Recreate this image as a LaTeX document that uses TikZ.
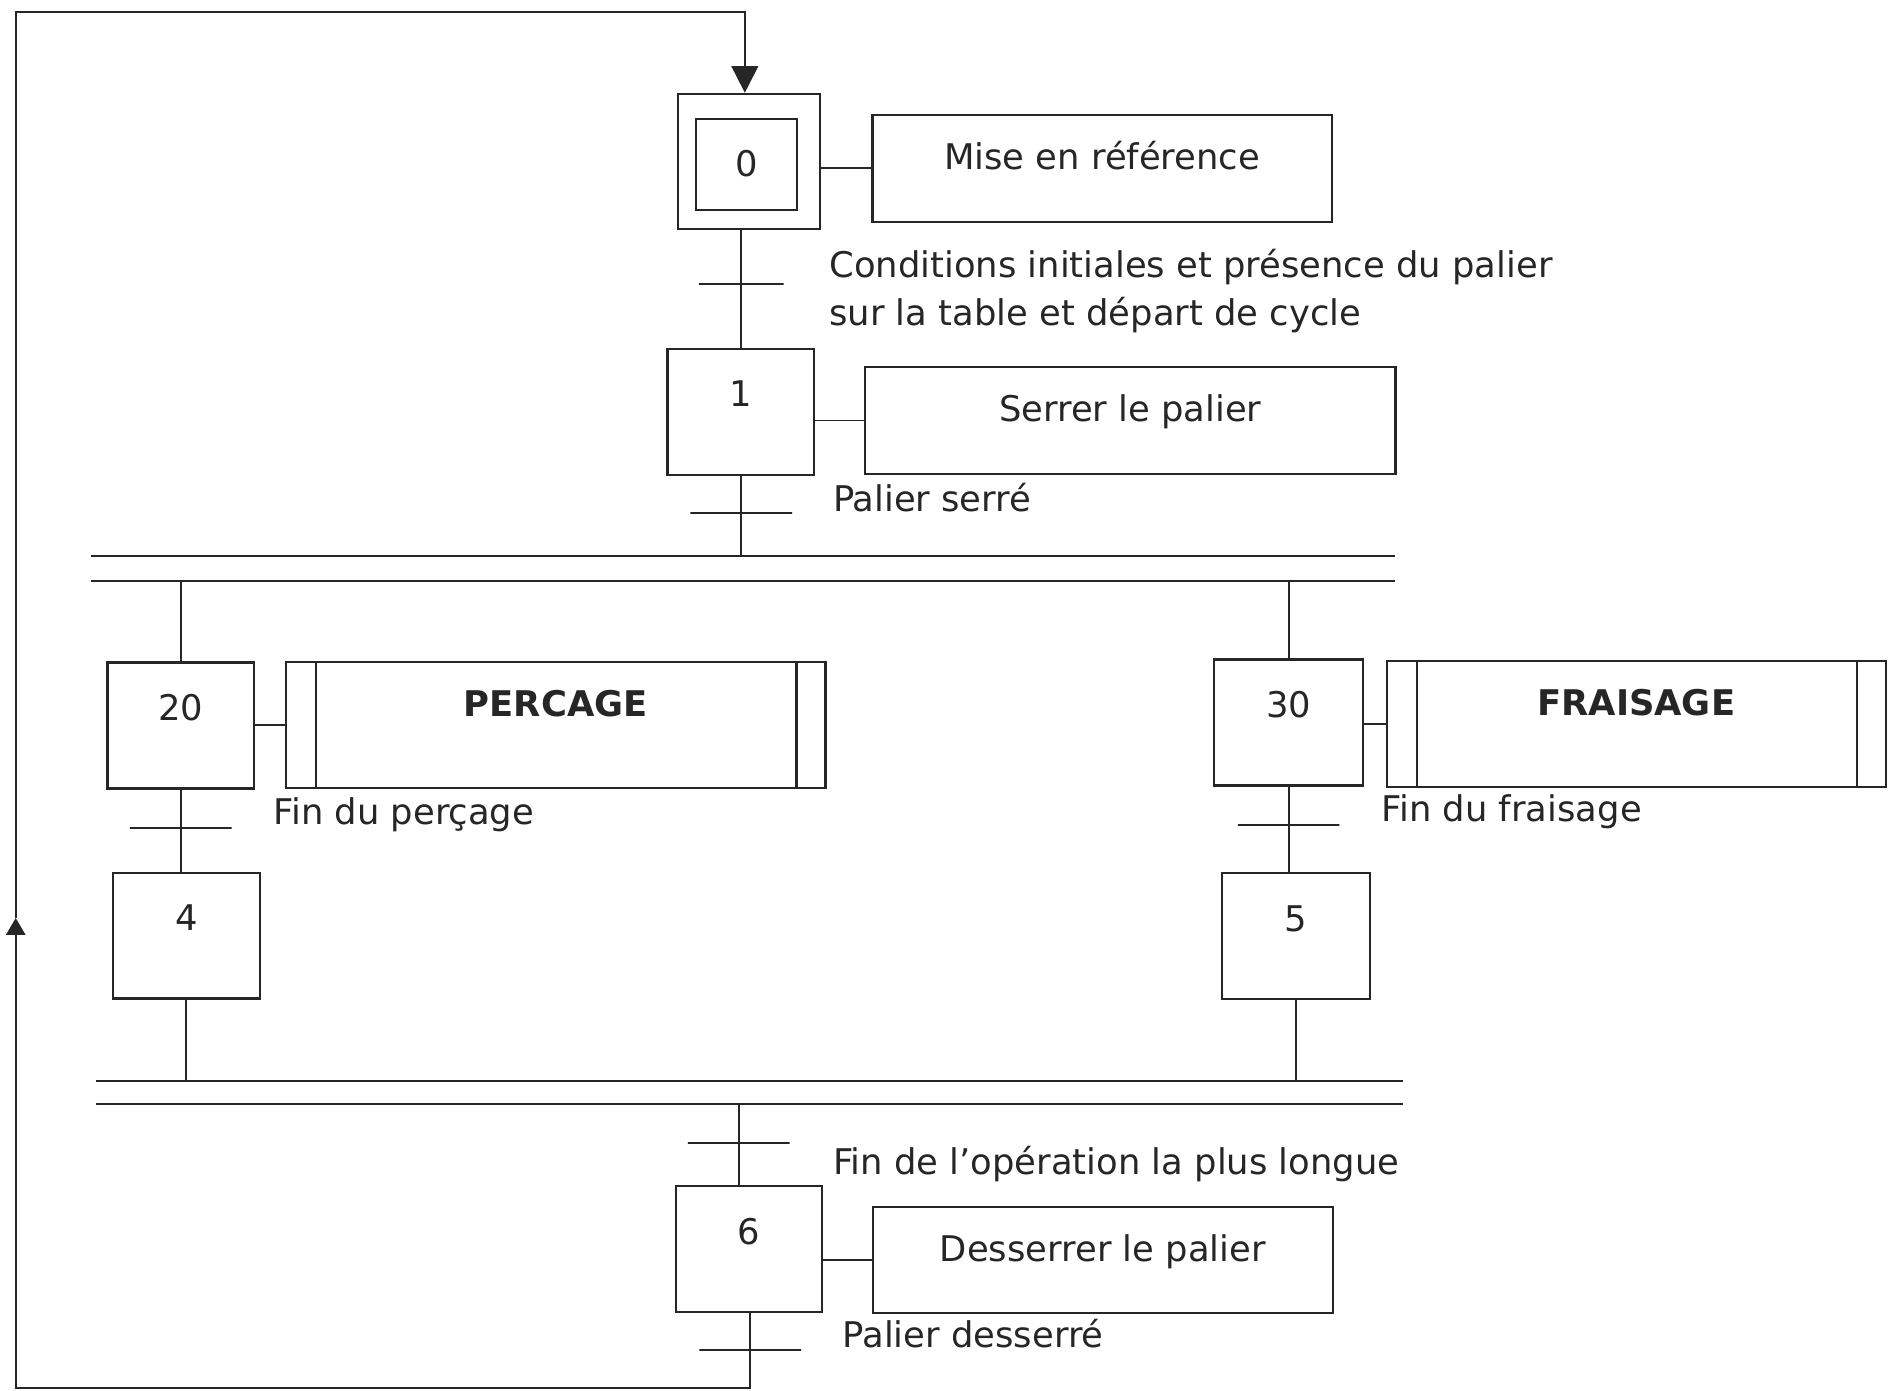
\documentclass[tikz,border=0pt]{standalone}
\usepackage{fontspec}
\setmainfont{DejaVu Sans}
\usetikzlibrary{arrows.meta}

\begin{document}
\begin{tikzpicture}
[x=0.5pt, y=-0.5pt, font=\fontsize{14.6}{19.75}\selectfont, line width=0.8pt, color=black!85]
\tikzstyle{etape}=[draw, line width=0.9pt, inner sep=0pt, minimum width=60.5pt, text height=24pt, text depth=28pt]
\tikzstyle{action}=[draw, line width=0.9pt, inner sep=0pt, text height=22.5pt, text depth=21.5pt]
\tikzstyle{tache}=[action, text depth=29.5pt, font=\fontsize{14.6}{18}\selectfont\bfseries,
  path picture={\draw ([xshift=12.5pt]path picture bounding box.north west) -- ([xshift=12.5pt]path picture bounding box.south west);
                \draw ([xshift=-12pt]path picture bounding box.north east) -- ([xshift=-12pt]path picture bounding box.south east);}]
\tikzstyle{trans}=[draw, line width=0.9pt, inner sep=0pt, minimum width=42pt, minimum height=0pt]
\tikzstyle{recept}=[anchor=base west, inner sep=0pt, align=left]
\tikzstyle{barre}=[inner sep=0pt, minimum height=9.5pt]

\useasboundingbox[fill=white] (0,0) rectangle (1568,1148);

% branche principale
\node[etape, minimum width=58.5pt, minimum height=55.7pt]		(E0)	at (618.5,133.2) {};
\node[etape, minimum width=41.5pt, text height=23.75pt, text depth=14pt]	(E0i)	at (616.5,135.7) {0};
\node[action, minimum width=189.6pt]	(A0)	at (910,139) {Mise en référence};
\node[trans, minimum width=35pt]		(T1)	at (612,234.7) {};
\node[recept]		(L1)	at (684,268.9) {Conditions initiales et présence du palier\\sur la table et départ de cycle};
\node[etape]		(E1)	at (611.7,340) {1};
\node[action, minimum width=219pt]		(A1)	at (933.3,347.2) {Serrer le palier};
\node[trans]		(T2)	at (612,423.8) {};
\node[recept]		(L2)	at (687,422.4) {Palier serré};
\node[barre, minimum width=537.5pt]		(B1)	at (613.5,469.5) {};

% percage
\node[etape]		(E20)	at (149.3,599) {20};
\node[tache, minimum width=222.8pt]		(A20)	at (458.8,598.7) {PERCAGE};
\node[trans]		(T20)	at (149.3,683.8) {};
\node[recept]		(L20)	at (225,681) {Fin du perçage};
\node[etape]		(E4)	at (153.9,772.5) {4};

% fraisage
\node[etape, minimum width=61.5pt]		(E30)	at (1064,596.5) {30};
\node[tache, minimum width=206pt]		(A30)	at (1351,598) {FRAISAGE};
\node[trans]		(T30)	at (1064,681.4) {};
\node[recept]		(L30)	at (1140,678.5) {Fin du fraisage};
\node[etape, minimum width=61.2pt]		(E5)	at (1070,773) {5};

% fin de cycle
\node[barre, minimum width=539pt, minimum height=8.5pt]	(B2)	at (619,902) {};
\node[trans]		(T6)	at (610,943.8) {};
\node[recept]		(L6)	at (687,969.5) {Fin de l’opération la plus longue};
\node[etape]		(E6)	at (618.5,1031.3) {6};
\node[action, minimum width=190pt, text depth=21.1pt]	(A6)	at (910.6,1040.3) {Desserrer le palier};
\node[trans]		(T7)	at (619.5,1115) {};
\node[recept]		(L7)	at (695,1113) {Palier desserré};

\coordinate (C1) at (619.5,1146);
\coordinate (C2) at (13,1146);
\coordinate (C3) at (13,758);
\coordinate (C4) at (13,10);
\coordinate (C5) at (615,10);

\draw (B1.north west) -- (B1.north east);
\draw (B1.south west) -- (B1.south east);
\draw (B2.north west) -- (B2.north east);
\draw (B2.south west) -- (B2.south east);

\draw (A0.west) -- (A0.west -| E0.east);
\draw (E0.south -| T1) -- (E1.north -| T1);
\draw (A1.west) -- (A1.west -| E1.east);
\draw (E1.south -| T2) -- (B1.north -| T2);

\draw (E20.north) -- (E20.north |- B1.south);
\draw (A20.west) -- (A20.west -| E20.east);
\draw (E20.south) -- (E20.south |- E4.north);
\draw (E4.south) -- (E4.south |- B2.north);

\draw (E30.north) -- (E30.north |- B1.south);
\draw (A30.west) -- (A30.west -| E30.east);
\draw (E30.south) -- (E30.south |- E5.north);
\draw (E5.south) -- (E5.south |- B2.north);

\draw (B2.south -| T6) -- (E6.north -| T6);
\draw (A6.west) -- (A6.west -| E6.east);
\draw[-{Triangle[length=7pt, width=8pt]}] (E6.south -| T7) -- (C1) -- (C2) -- (C3);
\draw[-{Triangle[length=11pt, width=11pt]}] (C3) -- (C4) -- (C5) -- (E0.north -| C5);

\end{tikzpicture}
\end{document}
